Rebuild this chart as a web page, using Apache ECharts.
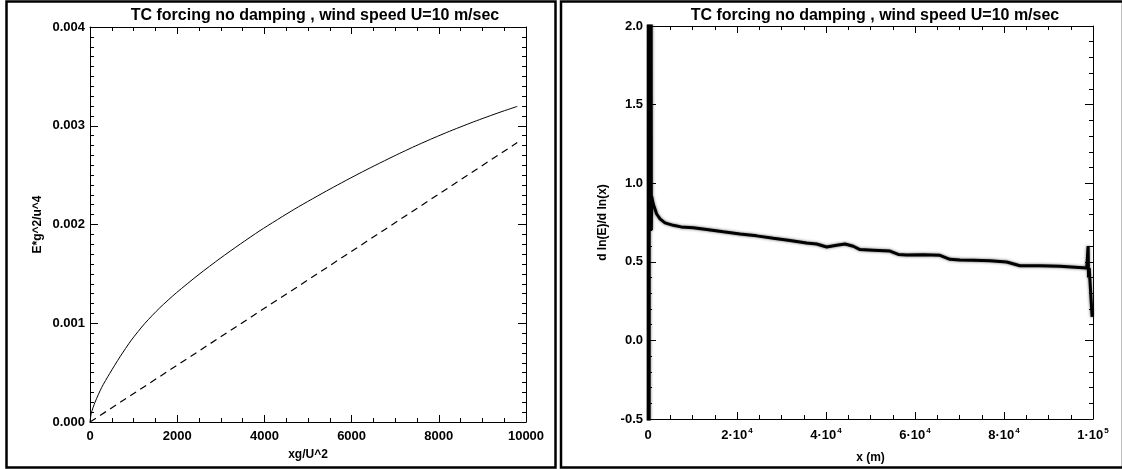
<!DOCTYPE html>
<html><head><meta charset="utf-8">
<script src="https://cdn.jsdelivr.net/npm/echarts@6/dist/echarts.min.js"></script>
<style>html,body{margin:0;padding:0;background:#fff}#c{width:1122px;height:469px}</style>
</head><body><div id="c"></div>
<script>
// ---- data ----
const titleText = 'TC forcing no damping , wind speed U=10 m/sec';
const leftSolidX = [0, 30, 115, 268, 450, 688, 950, 1261, 1600, 1988, 2500, 2982, 3450, 3899, 4700, 5505, 6250, 7034, 7600, 8181, 8800, 9404, 9800];
const leftSolidY = [0, 0.00009, 0.0002, 0.00035, 0.00049, 0.00066, 0.00083, 0.001, 0.001156, 0.001311, 0.001495, 0.001656, 0.001803, 0.001938, 0.002158, 0.002359, 0.002534, 0.002706, 0.002822, 0.002932, 0.00304, 0.003137, 0.003196];
const leftDashX = [0, 4900, 9800];
const leftDashY = [0, 0.00141, 0.00283];
const leftXTicks = ['0', '2000', '4000', '6000', '8000', '10000'];
const leftYTicks = ['0.000', '0.001', '0.002', '0.003', '0.004'];
const rightX = [50, 100, 150, 200, 250, 300, 350, 400, 450, 500, 550, 600, 650, 700, 750, 824, 1198, 1948, 2697, 3820, 5693, 7440, 10185, 13183, 16929, 20674, 24419, 28164, 31909, 35654, 37900, 40147, 42394, 44267, 46139, 47637, 50633, 54378, 56251, 58123, 61868, 65613, 67860, 70107, 73103, 76848, 80594, 83590, 88084, 92578, 98600, 98900, 99000, 99150, 99500, 99800];
const rightY = [-3, 4, -3, 4, -2, 3, 0.7, 3, 0.7, 3, 0.7, 3, 0.7, 2.5, 0.7, 0.917, 0.866, 0.804, 0.773, 0.748, 0.732, 0.722, 0.716, 0.706, 0.691, 0.677, 0.665, 0.650, 0.636, 0.619, 0.613, 0.594, 0.605, 0.613, 0.599, 0.578, 0.574, 0.568, 0.547, 0.543, 0.545, 0.541, 0.516, 0.512, 0.510, 0.506, 0.499, 0.475, 0.475, 0.471, 0.46, 0.60, 0.40, 0.46, 0.45, 0.15];
const rightXTicks = ['0', '2·10^4', '4·10^4', '6·10^4', '8·10^4', '1·10^5'];
const rightYTicks = ['-0.5', '0.0', '0.5', '1.0', '1.5', '2.0'];
// ---------------

const FF = '"Liberation Sans", Arial, Helvetica, sans-serif';
const zip = (a, b) => a.map((v, i) => [v, b[i]]);
const G = [
  {left: 90, top: 27, width: 436, height: 395},
  {left: 648, top: 26, width: 445, height: 405}
];
const lbl = {color: '#000', fontFamily: FF, fontWeight: 'bold', fontSize: 13};
function xAxes(gi, min, max, interval, minorSplit, labels, name, nameGap, rich) {
  const base = {
    type: 'value', gridIndex: gi, min: min, max: max, interval: interval,
    splitLine: {show: false},
    axisLine: {show: true, onZero: false, lineStyle: {color: '#000', width: 1}},
    axisTick: {show: true, inside: true, length: 7, lineStyle: {color: '#000'}},
    minorTick: {show: true, splitNumber: minorSplit, length: 4, lineStyle: {color: '#000'}}
  };
  return [
    Object.assign({}, base, {
      position: 'bottom',
      name: name, nameLocation: 'middle', nameGap: nameGap,
      nameTextStyle: {color: '#000', fontFamily: FF, fontWeight: 'bold', fontSize: 12},
      axisLabel: Object.assign({}, lbl, {margin: 8, rich: rich,
        formatter: v => {
          const s = labels[Math.round((v - min) / interval)];
          if (!rich) return s;
          const p = s.split('^');
          return p.length > 1 ? '{b|' + p[0] + '}{s|' + p[1] + '}' : '{b|' + p[0] + '}';
        }})
    }),
    Object.assign({}, base, {position: 'top', axisLabel: {show: false}})
  ];
}
function yAxes(gi, min, max, interval, minorSplit, labels, name, nameGap) {
  const base = {
    type: 'value', gridIndex: gi, min: min, max: max, interval: interval,
    splitLine: {show: false},
    axisLine: {show: true, onZero: false, lineStyle: {color: '#000', width: 1}},
    axisTick: {show: true, inside: true, length: 8, lineStyle: {color: '#000'}},
    minorTick: {show: true, splitNumber: minorSplit, length: 4, lineStyle: {color: '#000'}}
  };
  return [
    Object.assign({}, base, {
      position: 'left',
      name: name, nameLocation: 'middle', nameGap: nameGap,
      nameTextStyle: {color: '#000', fontFamily: FF, fontWeight: 'bold', fontSize: 12},
      axisLabel: Object.assign({}, lbl, {margin: 5,
        formatter: v => labels[Math.round((v - min) / interval)]})
    }),
    Object.assign({}, base, {position: 'right', axisLabel: {show: false}})
  ];
}
const rich = {
  b: {color: '#000', fontFamily: FF, fontWeight: 'bold', fontSize: 13, lineHeight: 16},
  s: {color: '#000', fontFamily: FF, fontWeight: 'bold', fontSize: 8, lineHeight: 16, verticalAlign: 'top', padding: [0, 0, 0, 1]}
};
const xa = [].concat(
  xAxes(0, 0, 10000, 2000, 4, leftXTicks, 'xg/U^2', 27, null),
  xAxes(1, 0, 100000, 20000, 4, rightXTicks, 'x (m)', 33, rich)
);
const ya = [].concat(
  yAxes(0, 0, 0.004, 0.001, 10, leftYTicks, 'E*g^2/u^4', 46),
  yAxes(1, -0.5, 2.0, 0.5, 5, rightYTicks, 'd ln(E)/d ln(x)', 39)
);
const titleStyle = {color: '#000', fontFamily: FF, fontWeight: 'bold', fontSize: 16};
const chart = echarts.init(document.getElementById('c'), null, {renderer: 'canvas'});
chart.setOption({
  animation: false,
  backgroundColor: '#fff',
  title: [
    {text: titleText, left: 310, top: 3, textAlign: 'center', textStyle: titleStyle},
    {text: titleText, left: 870, top: 3, textAlign: 'center', textStyle: titleStyle}
  ],
  grid: G,
  xAxis: xa,
  yAxis: ya,
  series: [
    {type: 'line', xAxisIndex: 0, yAxisIndex: 0, data: zip(leftSolidX, leftSolidY), showSymbol: false, smooth: 0.25, lineStyle: {color: '#000', width: 1}},
    {type: 'line', xAxisIndex: 0, yAxisIndex: 0, data: zip(leftDashX, leftDashY), showSymbol: false, lineStyle: {color: '#000', width: 1.2, type: [7, 5]}},
    {type: 'line', xAxisIndex: 2, yAxisIndex: 2, data: zip(rightX, rightY), showSymbol: false, clip: true,
     lineStyle: {color: '#000', width: 3, shadowBlur: 3, shadowColor: 'rgba(0,0,0,0.6)'}}
  ],
  graphic: [
    {type: 'rect', shape: {x: 6.5, y: 1.5, width: 549, height: 466}, style: {fill: null, stroke: '#000', lineWidth: 2.5}, silent: true},
    {type: 'rect', shape: {x: 561, y: 1.5, width: 562, height: 466}, style: {fill: null, stroke: '#000', lineWidth: 2.5}, silent: true}
  ]
});
</script></body></html>
